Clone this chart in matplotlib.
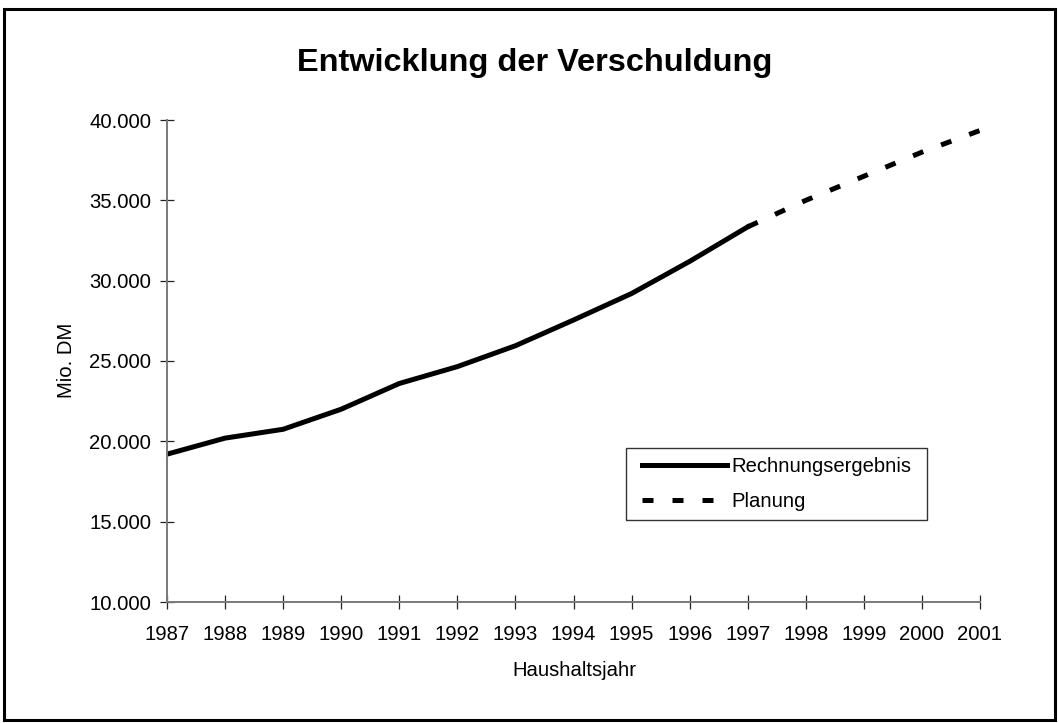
import matplotlib.pyplot as plt
from matplotlib.patches import Rectangle
from matplotlib.ticker import FuncFormatter

# Schulden in Mio. DM
years = ["1987", "1988", "1989", "1990", "1991", "1992", "1993", "1994",
         "1995", "1996", "1997", "1998", "1999", "2000", "2001"]
rechnung = [19200, 20200, 20750, 22000, 23600, 24650, 25950, 27550, 29200, 31200, 33350]
planung_years = ["1997", "1998", "1999", "2000", "2001"]
planung = [33350, 35000, 36500, 38000, 39350]

plt.rcParams["font.family"] = ["Liberation Sans", "DejaVu Sans"]
FS = 14.6

fig = plt.figure(figsize=(10.59, 7.23), dpi=100)
W, H = 1059, 723

# outer frame of the chart
fig.patches.append(Rectangle((3.5 / W, 3 / H), 1051.5 / W, 711 / H,
                             transform=fig.transFigure, fill=False,
                             edgecolor="black", linewidth=2.2))

ax = fig.add_axes([167 / W, (H - 602) / H, (980 - 167) / W, (602 - 120) / H])

x_r = [years.index(y) for y in years[:len(rechnung)]]
x_p = [years.index(y) for y in planung_years]

ax.plot(x_r, rechnung, color="black", linewidth=3.6, solid_joinstyle="miter",
        label="Rechnungsergebnis")
ax.plot(x_p, planung, color="black", linewidth=3.6, dashes=(2.2, 3.8),
        label="Planung")

ax.set_xlim(0, len(years) - 1)
ax.set_ylim(10000, 40000)
ax.set_xticks(range(len(years)))
ax.set_xticklabels(years)
ax.set_yticks(range(10000, 40001, 5000))
ax.yaxis.set_major_formatter(FuncFormatter(lambda v, p: f"{v:,.0f}".replace(",", ".")))

for s in ["top", "right"]:
    ax.spines[s].set_visible(False)
for s in ["left", "bottom"]:
    ax.spines[s].set_color("#7a7a7a")
    ax.spines[s].set_linewidth(1.4)

ax.tick_params(axis="both", direction="inout", length=9.4, width=0.9,
               color="#222222", labelsize=FS)
ax.tick_params(axis="x", pad=11.5)
ax.tick_params(axis="y", pad=6.8)

fig.text(535 / W, 1 - 71 / H, "Entwicklung der Verschuldung", ha="center",
         va="baseline", fontsize=23.4, fontweight="bold")
fig.text(66 / W, 1 - 360 / H, "Mio. DM", rotation=90, ha="center", va="center",
         fontsize=FS)
fig.text(574 / W, 1 - 670 / H, "Haushaltsjahr", ha="center", va="center",
         fontsize=FS)

# legend box drawn separately so the padding can match
ax.add_patch(Rectangle((626 / W, 1 - 520 / H), 301 / W, 72 / H,
                       transform=fig.transFigure, facecolor="white",
                       edgecolor="#333333", linewidth=1.0, zorder=3,
                       clip_on=False))
leg = ax.legend(loc="upper left", bbox_to_anchor=(642 / W, 1 - 457 / H),
                bbox_transform=fig.transFigure, borderaxespad=0,
                fontsize=FS, handlelength=4.2, handletextpad=0.2,
                borderpad=0, labelspacing=0.8, frameon=False)
leg.set_zorder(5)

plt.savefig("out.png", dpi=100)
